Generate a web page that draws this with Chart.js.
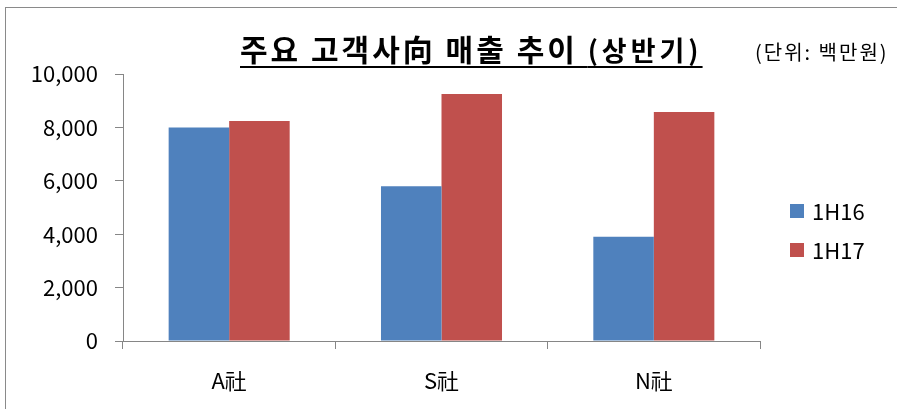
<!DOCTYPE html>
<html><head><meta charset="utf-8">
<script src="https://cdn.jsdelivr.net/npm/chart.js@4"></script>
<style>
html,body{margin:0;padding:0;background:#fff;overflow:hidden;}
#wrap{position:relative;width:897px;height:409px;}
#frame{position:absolute;left:5px;top:7px;width:900px;height:410px;border:1px solid #8a8a8a;box-sizing:border-box;}
#title{position:absolute;left:240px;top:28px;font-family:"Noto Sans CJK KR";font-weight:bold;font-size:30px;line-height:40px;letter-spacing:3px;color:#000;text-decoration:underline;text-underline-offset:5px;text-decoration-thickness:2px;white-space:nowrap;}
#title small{font-size:27px;letter-spacing:4px;}
#unit{position:absolute;left:755px;top:37px;font-family:"Noto Sans CJK KR";font-size:20px;line-height:30px;letter-spacing:2px;color:#000;white-space:nowrap;}
canvas{position:absolute;left:0;top:0;}
</style></head>
<body><div id="wrap">
<div id="frame"></div>
<canvas id="c" width="897" height="409"></canvas>
<div id="title">주요 고객사向 매출 추이 <small>(상반기)</small></div>
<div id="unit">(단위: 백만원)</div>
</div>
<script>
const categories = ["A社", "S社", "N社"];
const series1H16 = [8000, 5800, 3900];
const series1H17 = [8240, 9250, 8580];
const seriesNames = ["1H16", "1H17"];
const yTicks = [0, 2000, 4000, 6000, 8000, 10000];

const FONT = "'Noto Sans CJK KR', 'Noto Sans', sans-serif";
const legendPlugin = {
  id: 'customLegend',
  afterDraw(chart) {
    const ctx = chart.ctx;
    ctx.save();
    chart.data.datasets.forEach((ds, i) => {
      const y = 204 + i * 39;
      ctx.fillStyle = ds.backgroundColor;
      ctx.fillRect(790, y, 14, 14);
      ctx.fillStyle = '#000';
      ctx.font = '22px ' + FONT;
      ctx.textBaseline = 'middle';
      ctx.textAlign = 'left';
      ctx.fillText(ds.label, 812, y + 8);
    });
    ctx.restore();
  }
};

new Chart(document.getElementById('c'), {
  type: 'bar',
  data: {
    labels: categories,
    datasets: [
      { label: seriesNames[0], data: series1H16, backgroundColor: '#4F81BD' },
      { label: seriesNames[1], data: series1H17, backgroundColor: '#C0504D' }
    ]
  },
  options: {
    responsive: false,
    animation: false,
    devicePixelRatio: 1,
    layout: { padding: { left: 0, right: 137, top: 74, bottom: 0 } },
    plugins: { legend: { display: false }, tooltip: { enabled: false }, title: { display: false } },
    datasets: { bar: { categoryPercentage: 0.57, barPercentage: 1.0 } },
    scales: {
      x: {
        afterFit(s) { s.height = 68; },
        grid: { display: true, drawOnChartArea: false, drawTicks: true, tickLength: 8, color: '#868686', offset: true },
        border: { display: true, color: '#868686', width: 1 },
        ticks: { color: '#000', font: { family: FONT, size: 22 }, padding: 18 }
      },
      y: {
        min: 0, max: 10000,
        afterFit(s) { s.width = 123; },
        afterBuildTicks(s) { s.ticks = yTicks.map(v => ({ value: v })); },
        grid: { display: true, drawOnChartArea: false, drawTicks: true, tickLength: 8, color: '#868686' },
        border: { display: true, color: '#868686', width: 1 },
        ticks: { color: '#000', font: { family: FONT, size: 22 }, padding: 17,
          callback: v => v.toLocaleString('en-US') }
      }
    }
  },
  plugins: [legendPlugin]
});
</script>
</body></html>
